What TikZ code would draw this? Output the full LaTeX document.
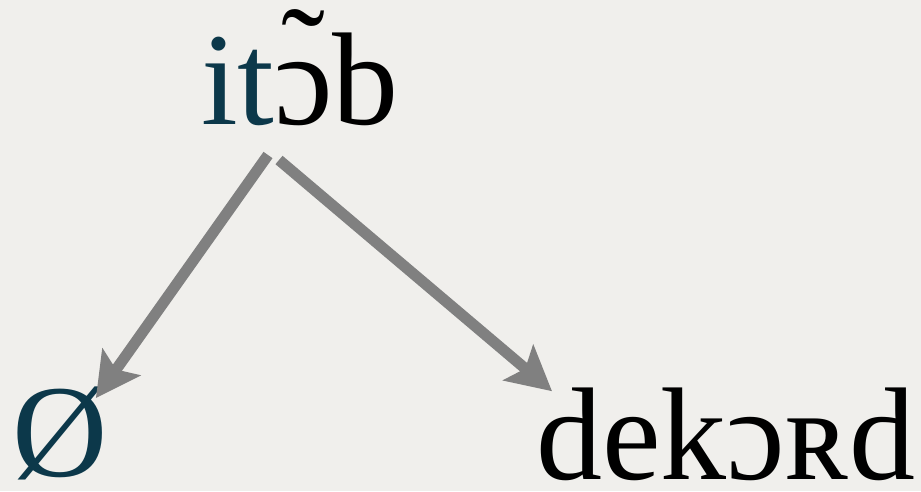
\documentclass[tikz,border=0pt]{standalone}
\usepackage{fontspec}
\setmainfont{Liberation Serif}
\usetikzlibrary{positioning}
\usetikzlibrary{calc}
\usetikzlibrary{arrows.meta}
\definecolor{paper}{RGB}{240,239,236}
\definecolor{teal}{RGB}{12,56,74}
\definecolor{arrowgray}{RGB}{128,128,128}
\tikzset{word/.style={inner sep=0pt, anchor=base, font=\fontsize{132}{150}\selectfont}}
\tikzset{branch/.style={draw=arrowgray, line width=11pt, -{Stealth[length=44pt, width=46pt, inset=9pt]}}}
\newcommand{\nasalo}{\ooalign{ɔ\cr\hidewidth\raisebox{26pt}{\char"02DC}\hidewidth\cr}}

\begin{document}
\begin{tikzpicture}[x=1pt, y=1pt]

    % Background.
    \fill [paper] (0,0) rectangle (921,491);
    \useasboundingbox (0,0) rectangle (921,491);

    % Words.
    \node [word] (itob) at (300,366) {\textcolor{teal}{it}\nasalo b};
    \node [word, text=teal] (null) at (60,15) {Ø};
    \node [word] (dekord) at (726,12) {dekɔʀd};

    % Coordinates for simplicity.
    \coordinate (itob-left) at ($(itob.base) + (-32,-30)$);
    \coordinate (itob-right) at ($(itob.base) + (-21,-35)$);

    % Lines from the word to its outcomes.
    \draw [branch] (itob-left) -- ($(null.north east) + (-12,-12)$);
    \draw [branch] (itob-right) -- ($(dekord.north west) + (16,-4)$);

\end{tikzpicture}
\end{document}
